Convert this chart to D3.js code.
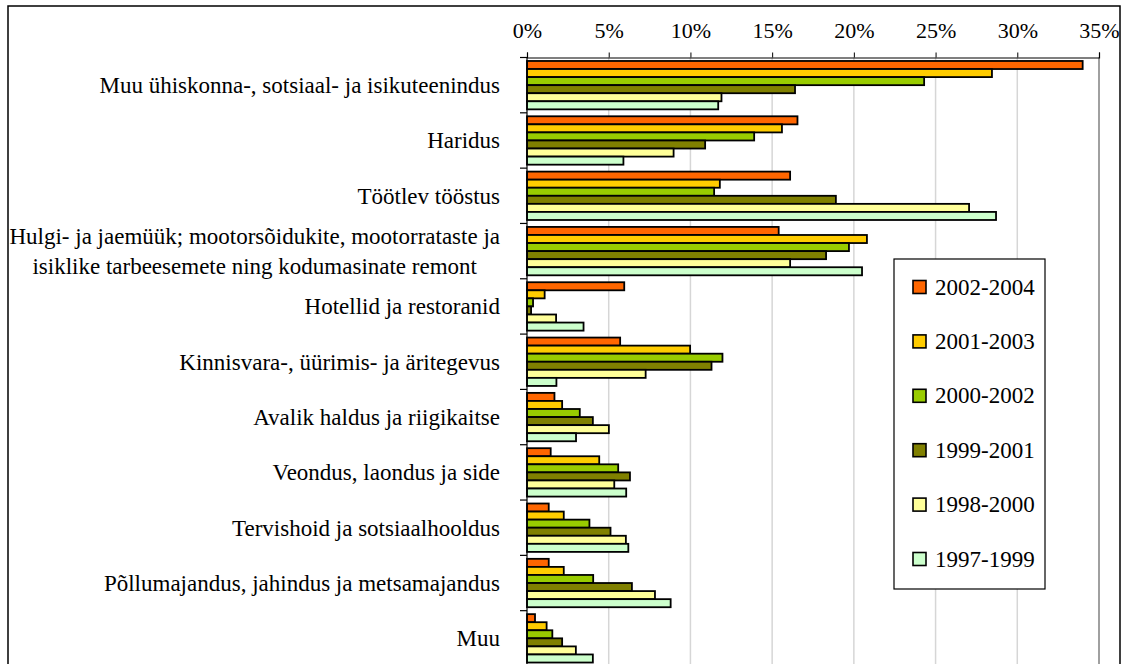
<!DOCTYPE html>
<html>
<head>
<meta charset="utf-8">
<script src="https://cdn.jsdelivr.net/npm/d3@7"></script>
<style>
  html, body { margin: 0; padding: 0; background: #fff; }
  svg { display: block; }
  text { font-family: "Liberation Serif", "Times New Roman", serif; fill: #000; }
</style>
</head>
<body>
<div id="chart"></div>
<script>
'use strict';

// categories, top to bottom
var categories = [
  'Muu ühiskonna-, sotsiaal- ja isikuteenindus',
  'Haridus',
  'Töötlev tööstus',
  'Hulgi- ja jaemüük; mootorsõidukite, mootorrataste ja|isiklike tarbeesemete ning kodumasinate remont',
  'Hotellid ja restoranid',
  'Kinnisvara-, üürimis- ja äritegevus',
  'Avalik haldus ja riigikaitse',
  'Veondus, laondus ja side',
  'Tervishoid ja sotsiaalhooldus',
  'Põllumajandus, jahindus ja metsamajandus',
  'Muu'
];

var seriesNames = ['2002-2004', '2001-2003', '2000-2002', '1999-2001', '1998-2000', '1997-1999'];
var seriesColors = ['#ff6600', '#ffcc00', '#99cc00', '#808000', '#ffff99', '#ccffcc'];

// values in %, same order as categories
var v2002_2004 = [34.0, 16.55, 16.1, 15.4, 5.95, 5.7, 1.68, 1.45, 1.33, 1.33, 0.49];
var v2001_2003 = [28.45, 15.6, 11.8, 20.8, 1.08, 9.98, 2.15, 4.42, 2.25, 2.25, 1.2];
var v2000_2002 = [24.3, 13.9, 11.45, 19.7, 0.37, 11.96, 3.23, 5.58, 3.82, 4.05, 1.55];
var v1999_2001 = [16.4, 10.9, 18.9, 18.3, 0.25, 11.29, 4.03, 6.3, 5.11, 6.42, 2.15];
var v1998_2000 = [11.9, 8.97, 27.05, 16.1, 1.78, 7.26, 5.01, 5.34, 6.05, 7.83, 2.99];
var v1997_1999 = [11.7, 5.9, 28.7, 20.5, 3.46, 1.8, 3.0, 6.07, 6.2, 8.79, 4.03];

var seriesValues = [v2002_2004, v2001_2003, v2000_2002, v1999_2001, v1998_2000, v1997_1999];

var xTicks = [0, 5, 10, 15, 20, 25, 30, 35];

var width = 1127, height = 664;
var plot = { left: 527, right: 1099, top: 57.5, bottom: 666 };
var labelFont = '23px';

var svg = d3.select('#chart').append('svg')
    .attr('width', width)
    .attr('height', height);

// outer frame
svg.append('rect')
    .attr('x', 8).attr('y', 6)
    .attr('width', 1112).attr('height', 700)
    .attr('fill', 'none')
    .attr('stroke', '#000')
    .attr('stroke-width', 1.5);

var x = d3.scaleLinear().domain([0, 35]).range([plot.left, plot.right]);
var y0 = d3.scaleBand().domain(categories).range([plot.top, plot.bottom]);
var y1 = d3.scaleBand().domain(seriesNames).range([0, y0.bandwidth()]).paddingOuter(0.43);

// gridlines
svg.append('g').selectAll('line')
    .data(xTicks.slice(1, -1))
    .enter().append('line')
    .attr('x1', function(d) { return x(d); })
    .attr('x2', function(d) { return x(d); })
    .attr('y1', plot.top).attr('y2', plot.bottom)
    .attr('stroke', '#d6d6d6')
    .attr('stroke-width', 1.5);

// right plot border
svg.append('line')
    .attr('x1', plot.right).attr('x2', plot.right)
    .attr('y1', plot.top).attr('y2', plot.bottom)
    .attr('stroke', '#808080')
    .attr('stroke-width', 1.5);

// bars
var groups = svg.append('g').selectAll('g')
    .data(categories)
    .enter().append('g')
    .attr('transform', function(d) { return 'translate(0,' + y0(d) + ')'; });

groups.selectAll('rect')
    .data(function(c, ci) {
        return seriesNames.map(function(s, si) {
            return { series: s, value: seriesValues[si][ci], color: seriesColors[si] };
        });
    })
    .enter().append('rect')
    .attr('x', x(0))
    .attr('y', function(d) { return y1(d.series); })
    .attr('width', function(d) { return x(d.value) - x(0); })
    .attr('height', y1.bandwidth())
    .attr('fill', function(d) { return d.color; })
    .attr('stroke', '#000')
    .attr('stroke-width', 1.8);

// top axis
var xAxis = d3.axisTop(x)
    .tickValues(xTicks)
    .tickSize(5)
    .tickPadding(15)
    .tickFormat(function(d) { return d + '%'; });

var gx = svg.append('g')
    .attr('transform', 'translate(0,' + plot.top + ')')
    .call(xAxis);
gx.select('.domain').attr('stroke', '#000').attr('stroke-width', 1.2);
gx.selectAll('.tick line').attr('stroke', '#000');
gx.selectAll('.tick text')
    .style('font-family', '"Liberation Serif", "Times New Roman", serif')
    .style('font-size', '22px');

// left axis: line + ticks at category boundaries
svg.append('line')
    .attr('x1', plot.left).attr('x2', plot.left)
    .attr('y1', plot.top).attr('y2', plot.bottom)
    .attr('stroke', '#000')
    .attr('stroke-width', 1.2);

var boundaries = categories.map(function(c) { return y0(c); }).concat([plot.bottom]);
svg.append('g').selectAll('line')
    .data(boundaries)
    .enter().append('line')
    .attr('x1', plot.left - 7).attr('x2', plot.left)
    .attr('y1', function(d) { return d; })
    .attr('y2', function(d) { return d; })
    .attr('stroke', '#000')
    .attr('stroke-width', 1.2);

// category labels
var labelRight = 500;
var lineGap = 30.5;
categories.forEach(function(c) {
    var lines = c.split('|');
    var cy = y0(c) + y0.bandwidth() / 2;
    var t = svg.append('text')
        .style('font-size', labelFont)
        .attr('dominant-baseline', 'central');
    lines.forEach(function(line, i) {
        t.append('tspan')
            .attr('y', cy + (i - (lines.length - 1) / 2) * lineGap)
            .text(line);
    });
    if (lines.length === 1) {
        t.attr('text-anchor', 'end').selectAll('tspan').attr('x', labelRight);
    } else {
        var maxW = 0;
        t.selectAll('tspan').each(function() {
            maxW = Math.max(maxW, this.getComputedTextLength());
        });
        t.attr('text-anchor', 'middle').selectAll('tspan').attr('x', labelRight - maxW / 2);
    }
});

// legend
var legend = svg.append('g').attr('transform', 'translate(894,259)');
legend.append('rect')
    .attr('width', 151).attr('height', 330)
    .attr('fill', '#fff')
    .attr('stroke', '#000')
    .attr('stroke-width', 1.2);

var items = legend.selectAll('g.item')
    .data(seriesNames)
    .enter().append('g')
    .attr('class', 'item')
    .attr('transform', function(d, i) { return 'translate(19,' + (28 + i * 54.4) + ')'; });

items.append('rect')
    .attr('x', 0).attr('y', -6.5)
    .attr('width', 13).attr('height', 13)
    .attr('fill', function(d, i) { return seriesColors[i]; })
    .attr('stroke', '#000')
    .attr('stroke-width', 1.6);

items.append('text')
    .attr('x', 22)
    .attr('dominant-baseline', 'central')
    .style('font-size', labelFont)
    .text(function(d) { return d; });
</script>
</body>
</html>
